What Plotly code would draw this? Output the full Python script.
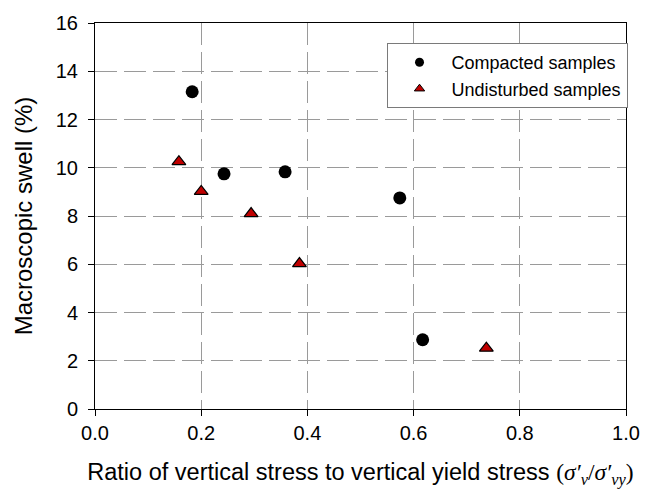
import plotly.graph_objects as go

# Compacted samples: stress ratio vs. macroscopic swell (%)
compacted_ratio = [0.183, 0.243, 0.358, 0.574, 0.617]
compacted_swell = [13.15, 9.75, 9.83, 8.75, 2.87]

# Undisturbed samples
undisturbed_ratio = [0.158, 0.200, 0.294, 0.385, 0.737]
undisturbed_swell = [10.25, 9.02, 8.10, 6.03, 2.52]

x_ticks = [0.0, 0.2, 0.4, 0.6, 0.8, 1.0]
x_tick_text = ["0.0", "0.2", "0.4", "0.6", "0.8", "1.0"]
y_ticks = [0, 2, 4, 6, 8, 10, 12, 14, 16]

FONT = "Liberation Sans, Arial, sans-serif"
GRID = "#9a9a9a"

fig = go.Figure()

# data markers
fig.add_trace(go.Scatter(
    x=compacted_ratio, y=compacted_swell, mode="markers",
    name="Compacted samples", showlegend=False,
    marker=dict(symbol="circle", size=13, color="black",
                line=dict(color="black", width=0)),
))
fig.add_trace(go.Scatter(
    x=undisturbed_ratio, y=undisturbed_swell, mode="markers",
    name="Undisturbed samples", showlegend=False,
    marker=dict(symbol="triangle-up", size=12, color="#c00000",
                line=dict(color="black", width=1.2)),
))

# legend entries with smaller symbols
fig.add_trace(go.Scatter(
    x=[None], y=[None], mode="markers", name="Compacted samples",
    marker=dict(symbol="circle", size=9, color="black"),
))
fig.add_trace(go.Scatter(
    x=[None], y=[None], mode="markers", name="Undisturbed samples",
    marker=dict(symbol="triangle-up", size=9, color="#c00000",
                line=dict(color="black", width=1)),
))

x_title = ("Ratio of vertical stress to vertical yield stress "
           "<span style='font-family:Liberation Serif, DejaVu Serif, serif'>"
           "(<i>σ′<sub>v</sub></i>/<i>σ′<sub>vy</sub></i>)</span>")

fig.update_layout(
    width=652, height=498,
    margin=dict(l=95, r=17, t=17, b=89),
    paper_bgcolor="white", plot_bgcolor="white",
    font=dict(family=FONT, color="black", size=20),
    showlegend=True,
    legend=dict(
        x=0.549, y=0.948, xanchor="left", yanchor="top",
        bgcolor="white", bordercolor="#7a7a7a", borderwidth=1,
        font=dict(family=FONT, size=18, color="black"),
        itemwidth=54,
    ),
    xaxis=dict(
        range=[0, 1], tickvals=x_ticks, ticktext=x_tick_text,
        showgrid=True, gridcolor=GRID, gridwidth=1, griddash="22px,7px",
        zeroline=False,
        showline=True, linecolor="black", linewidth=1, mirror=True,
        ticks="outside", ticklen=6, tickcolor="black",
        tickfont=dict(family=FONT, size=20),
        title=dict(text=x_title, font=dict(family=FONT, size=23.5), standoff=20),
    ),
    yaxis=dict(
        range=[0, 16], tickvals=y_ticks,
        showgrid=True, gridcolor=GRID, gridwidth=1, griddash="22px,7px",
        zeroline=False,
        showline=True, linecolor="black", linewidth=1, mirror=True,
        ticks="outside", ticklen=6, tickcolor="black",
        ticklabelstandoff=6,
        tickfont=dict(family=FONT, size=20),
        title=dict(text="Macroscopic swell (%)", font=dict(family=FONT, size=24),
                   standoff=16),
    ),
)

fig.write_html("out.html")
